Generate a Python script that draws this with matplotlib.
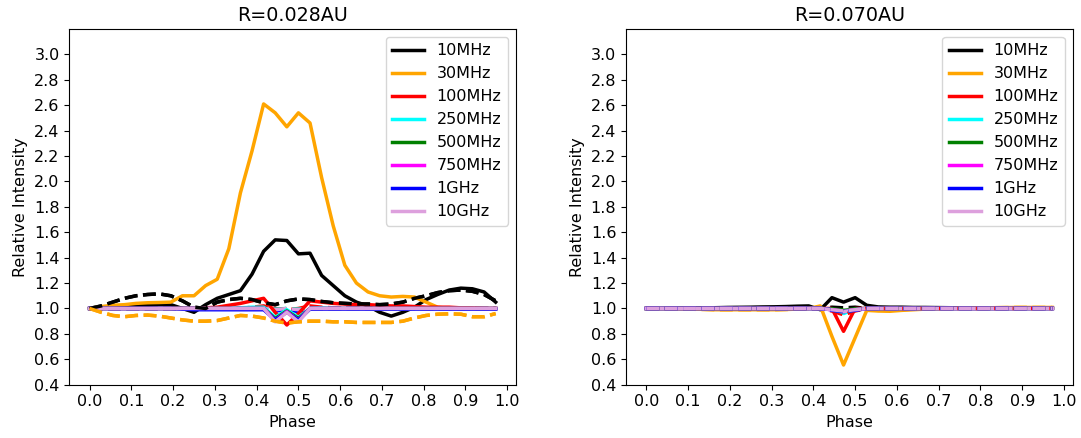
import numpy as np
import matplotlib
matplotlib.use("Agg")
import matplotlib.pyplot as plt

plt.rcParams['font.family'] = ['DejaVu Sans']
plt.rcParams['font.size'] = 11.5

# ---------------- data ----------------
phase = np.arange(36) / 36.0

labels = ["10MHz", "30MHz", "100MHz", "250MHz", "500MHz", "750MHz", "1GHz", "10GHz"]
colors = ["black", "orange", "red", "cyan", "green", "magenta", "blue", "plum"]
titles = ["R=0.028AU", "R=0.070AU"]

ONE13 = [1.0] * 13
ONE16 = [1.0] * 16

# Left panel (R=0.028AU), solid lines
L_10MHz = [1.00, 1.005, 1.01, 1.015, 1.02, 1.025, 1.03, 1.03, 1.00, 0.97, 1.03, 1.08,
           1.11, 1.14, 1.27, 1.45, 1.54, 1.535, 1.43, 1.435, 1.26, 1.18, 1.10, 1.05,
           1.02, 0.97, 0.94, 0.97, 1.01, 1.07, 1.11, 1.145, 1.16, 1.155, 1.13, 1.05]
L_30MHz = [1.00, 1.015, 1.025, 1.03, 1.04, 1.045, 1.047, 1.05, 1.10, 1.10, 1.18, 1.23,
           1.47, 1.91, 2.24, 2.61, 2.54, 2.43, 2.54, 2.46, 2.03, 1.65, 1.34, 1.20,
           1.13, 1.10, 1.09, 1.095, 1.09, 1.05, 1.01, 1.00, 1.00, 1.00, 1.00, 1.00]
L_100MHz = [1.00, 1.00, 1.00, 1.00, 1.00, 1.00, 1.00, 1.00, 1.00, 1.00, 1.005, 1.01,
            1.025, 1.04, 1.06, 1.08, 0.97, 0.87, 0.96, 1.06, 1.05, 1.04, 1.035, 1.03,
            1.03, 1.025, 1.02, 1.02, 1.015, 1.01, 1.01, 1.01, 1.005, 1.005, 1.00, 1.00]
L_250MHz = ONE13 + [1.005, 1.01, 1.01, 0.93, 0.99, 0.93, 1.00, 1.005] + [1.0] * 15
L_500MHz = ONE13 + [1.00, 1.00, 1.00, 0.92, 0.98, 0.92, 1.00, 1.00] + [1.0] * 15
L_750MHz = ONE13 + [1.00, 1.00, 1.00, 0.91, 0.975, 0.91, 1.00, 1.00] + [1.0] * 15
L_1GHz = [1.0] * 8 + [0.995, 0.99, 0.99, 0.99, 0.99, 0.99, 0.99, 0.99,
                      0.91, 0.97, 0.91, 0.995, 0.995] + [0.995] * 15
L_10GHz = ONE13 + [1.00, 1.00, 1.00, 0.895, 0.97, 0.895, 1.00, 1.00] + [1.0] * 15

# Left panel dashed lines
LD_10MHz = [1.00, 1.02, 1.05, 1.08, 1.10, 1.11, 1.115, 1.10, 1.06, 1.01, 1.00, 1.05,
            1.07, 1.08, 1.07, 1.045, 1.03, 1.06, 1.075, 1.07, 1.055, 1.045, 1.04, 1.035,
            1.035, 1.03, 1.035, 1.05, 1.08, 1.10, 1.125, 1.14, 1.145, 1.135, 1.11, 1.06]
LD_30MHz = [1.00, 0.97, 0.945, 0.935, 0.945, 0.948, 0.94, 0.925, 0.91, 0.90, 0.90, 0.905,
            0.925, 0.945, 0.94, 0.925, 0.90, 0.885, 0.895, 0.90, 0.90, 0.895, 0.895, 0.89,
            0.89, 0.89, 0.89, 0.90, 0.925, 0.945, 0.955, 0.958, 0.955, 0.935, 0.935, 0.96]
LD_100MHz = ONE13 + [1.00, 1.01, 1.02, 1.00, 0.99, 1.00, 1.02, 1.01] + [1.005] * 15
LD_250MHz = ONE13 + [1.00, 1.00, 1.00, 0.995, 1.00, 0.995, 1.00, 1.00] + [1.0] * 15
LD_500MHz = ONE13 + [1.00, 1.00, 1.00, 0.99, 1.00, 0.99, 1.00, 1.00] + [1.0] * 15
LD_750MHz = ONE13 + [1.00, 1.00, 1.00, 0.985, 0.995, 0.985, 1.00, 1.00] + [1.0] * 15
LD_1GHz = ONE13 + [1.00, 1.00, 1.00, 0.98, 0.99, 0.975, 1.00, 1.00] + [1.0] * 15
LD_10GHz = ONE13 + [1.00, 1.00, 1.00, 0.99, 1.00, 0.99, 1.00, 1.00] + [1.0] * 15

# Right panel (R=0.070AU), solid lines
R_10MHz = [1.00, 1.00, 1.002, 1.003, 1.004, 1.005, 1.006, 1.008, 1.009, 1.01, 1.012, 1.013,
           1.015, 1.018, 1.02, 0.99, 1.085, 1.05, 1.085, 1.025, 1.012, 1.01, 1.01, 1.008,
           1.008, 1.007, 1.006, 1.005, 1.005, 1.004, 1.004, 1.003, 1.003, 1.002, 1.002, 1.002]
R_30MHz = [1.00, 1.00, 0.998, 0.997, 0.995, 0.993, 0.99, 0.99, 0.99, 0.99, 0.99, 0.99,
           0.992, 0.995, 1.00, 1.02, 0.78, 0.555, 0.77, 0.985, 0.98, 0.978, 0.985, 0.99,
           0.995, 0.998, 1.00, 1.002, 1.004, 1.005, 1.006, 1.007, 1.008, 1.008, 1.008, 1.008]
R_100MHz = ONE13 + [1.00, 1.00, 1.00, 1.00, 0.82, 1.00, 1.00] + ONE16
R_250MHz = ONE13 + [1.00, 1.00, 1.00, 0.995, 0.96, 0.995, 1.00] + ONE16
R_500MHz = ONE13 + [1.00, 1.00, 1.00, 0.995, 0.985, 0.995, 1.00] + ONE16
R_750MHz = ONE13 + [1.00, 1.00, 1.00, 0.99, 0.975, 0.99, 1.00] + ONE16
R_1GHz = ONE13 + [1.00, 1.00, 1.00, 0.99, 0.975, 0.99, 1.00] + ONE16
R_10GHz = ONE13 + [1.00, 1.00, 1.00, 0.99, 0.975, 0.99, 1.00] + ONE16

# Right panel dashed lines
RD_10MHz = ONE13 + [1.00, 1.00, 1.00, 1.01, 1.005, 1.01, 1.00] + ONE16
RD_30MHz = [1.00, 1.00, 0.998, 0.996, 0.994, 0.992, 0.99, 0.99, 0.99, 0.99, 0.99, 0.99,
            0.992, 0.995, 1.00, 1.00, 0.99, 0.98, 0.99, 0.99, 0.985, 0.985, 0.99, 0.995,
            1.00, 1.00, 1.00, 1.002, 1.004, 1.005, 1.006, 1.007, 1.008, 1.008, 1.008, 1.008]
RD_100MHz = ONE13 + [1.00, 1.00, 1.00, 0.98, 0.95, 0.98, 1.00] + ONE16
RD_250MHz = ONE13 + [1.00, 1.00, 1.00, 0.99, 0.97, 0.99, 1.00] + ONE16
RD_500MHz = ONE13 + [1.00, 1.00, 1.00, 0.995, 0.99, 0.995, 1.00] + ONE16
RD_750MHz = ONE13 + [1.00, 1.00, 1.00, 0.99, 0.98, 0.99, 1.00] + ONE16
RD_1GHz = ONE13 + [1.00, 1.00, 1.00, 0.985, 0.975, 0.985, 1.00] + ONE16
RD_10GHz = ONE13 + [1.00, 1.00, 1.00, 0.99, 0.98, 0.99, 1.00] + ONE16

solid_sets = [
    [L_10MHz, L_30MHz, L_100MHz, L_250MHz, L_500MHz, L_750MHz, L_1GHz, L_10GHz],
    [R_10MHz, R_30MHz, R_100MHz, R_250MHz, R_500MHz, R_750MHz, R_1GHz, R_10GHz],
]
dashed_sets = [
    [LD_10MHz, LD_30MHz, LD_100MHz, LD_250MHz, LD_500MHz, LD_750MHz, LD_1GHz, LD_10GHz],
    [RD_10MHz, RD_30MHz, RD_100MHz, RD_250MHz, RD_500MHz, RD_750MHz, RD_1GHz, RD_10GHz],
]

xticks = [0.0, 0.1, 0.2, 0.3, 0.4, 0.5, 0.6, 0.7, 0.8, 0.9, 1.0]
yticks = [0.4, 0.6, 0.8, 1.0, 1.2, 1.4, 1.6, 1.8, 2.0, 2.2, 2.4, 2.6, 2.8, 3.0]

# ---------------- plot ----------------
fig = plt.figure(figsize=(10.81, 4.38), dpi=100)
positions = [[0.0641, 0.1217, 0.4132, 0.8121], [0.5791, 0.1217, 0.4132, 0.8121]]

for k in range(2):
    ax = fig.add_axes(positions[k])
    if k == 0:
        for ys, c in zip(dashed_sets[k], colors):
            ax.plot(phase, ys, color=c, lw=2.5, ls='--', zorder=2)
        for ys, lab, c in zip(solid_sets[k], labels, colors):
            ax.plot(phase, ys, color=c, lw=2.5, label=lab, zorder=2)
        for ys, c in zip(dashed_sets[k][:2], colors[:2]):
            ax.plot(phase, ys, color=c, lw=2.5, ls='--', zorder=3)
    else:
        for ys, c in zip(dashed_sets[k][:2], colors[:2]):
            ax.plot(phase, ys, color=c, lw=2.5, ls='--', zorder=2)
        for ys, lab, c in zip(solid_sets[k], labels, colors):
            ax.plot(phase, ys, color=c, lw=2.5, label=lab, zorder=2)
        for ys, c in zip(dashed_sets[k][2:], colors[2:]):
            ax.plot(phase, ys, color=c, lw=2.5, ls='--', zorder=2)
    ax.set_ylim(0.4, 3.2)
    ax.set_xticks(xticks)
    ax.set_yticks(yticks)
    ax.set_xticklabels([f"{v:.1f}" for v in xticks])
    ax.set_yticklabels([f"{v:.1f}" for v in yticks])
    ax.set_xlabel("Phase")
    ax.set_ylabel("Relative Intensity")
    ax.set_title(titles[k])
    leg = ax.legend(loc='upper right')
    for h in leg.get_lines():
        h.set_linewidth(2.5)

fig.savefig("out.png", dpi=100)
